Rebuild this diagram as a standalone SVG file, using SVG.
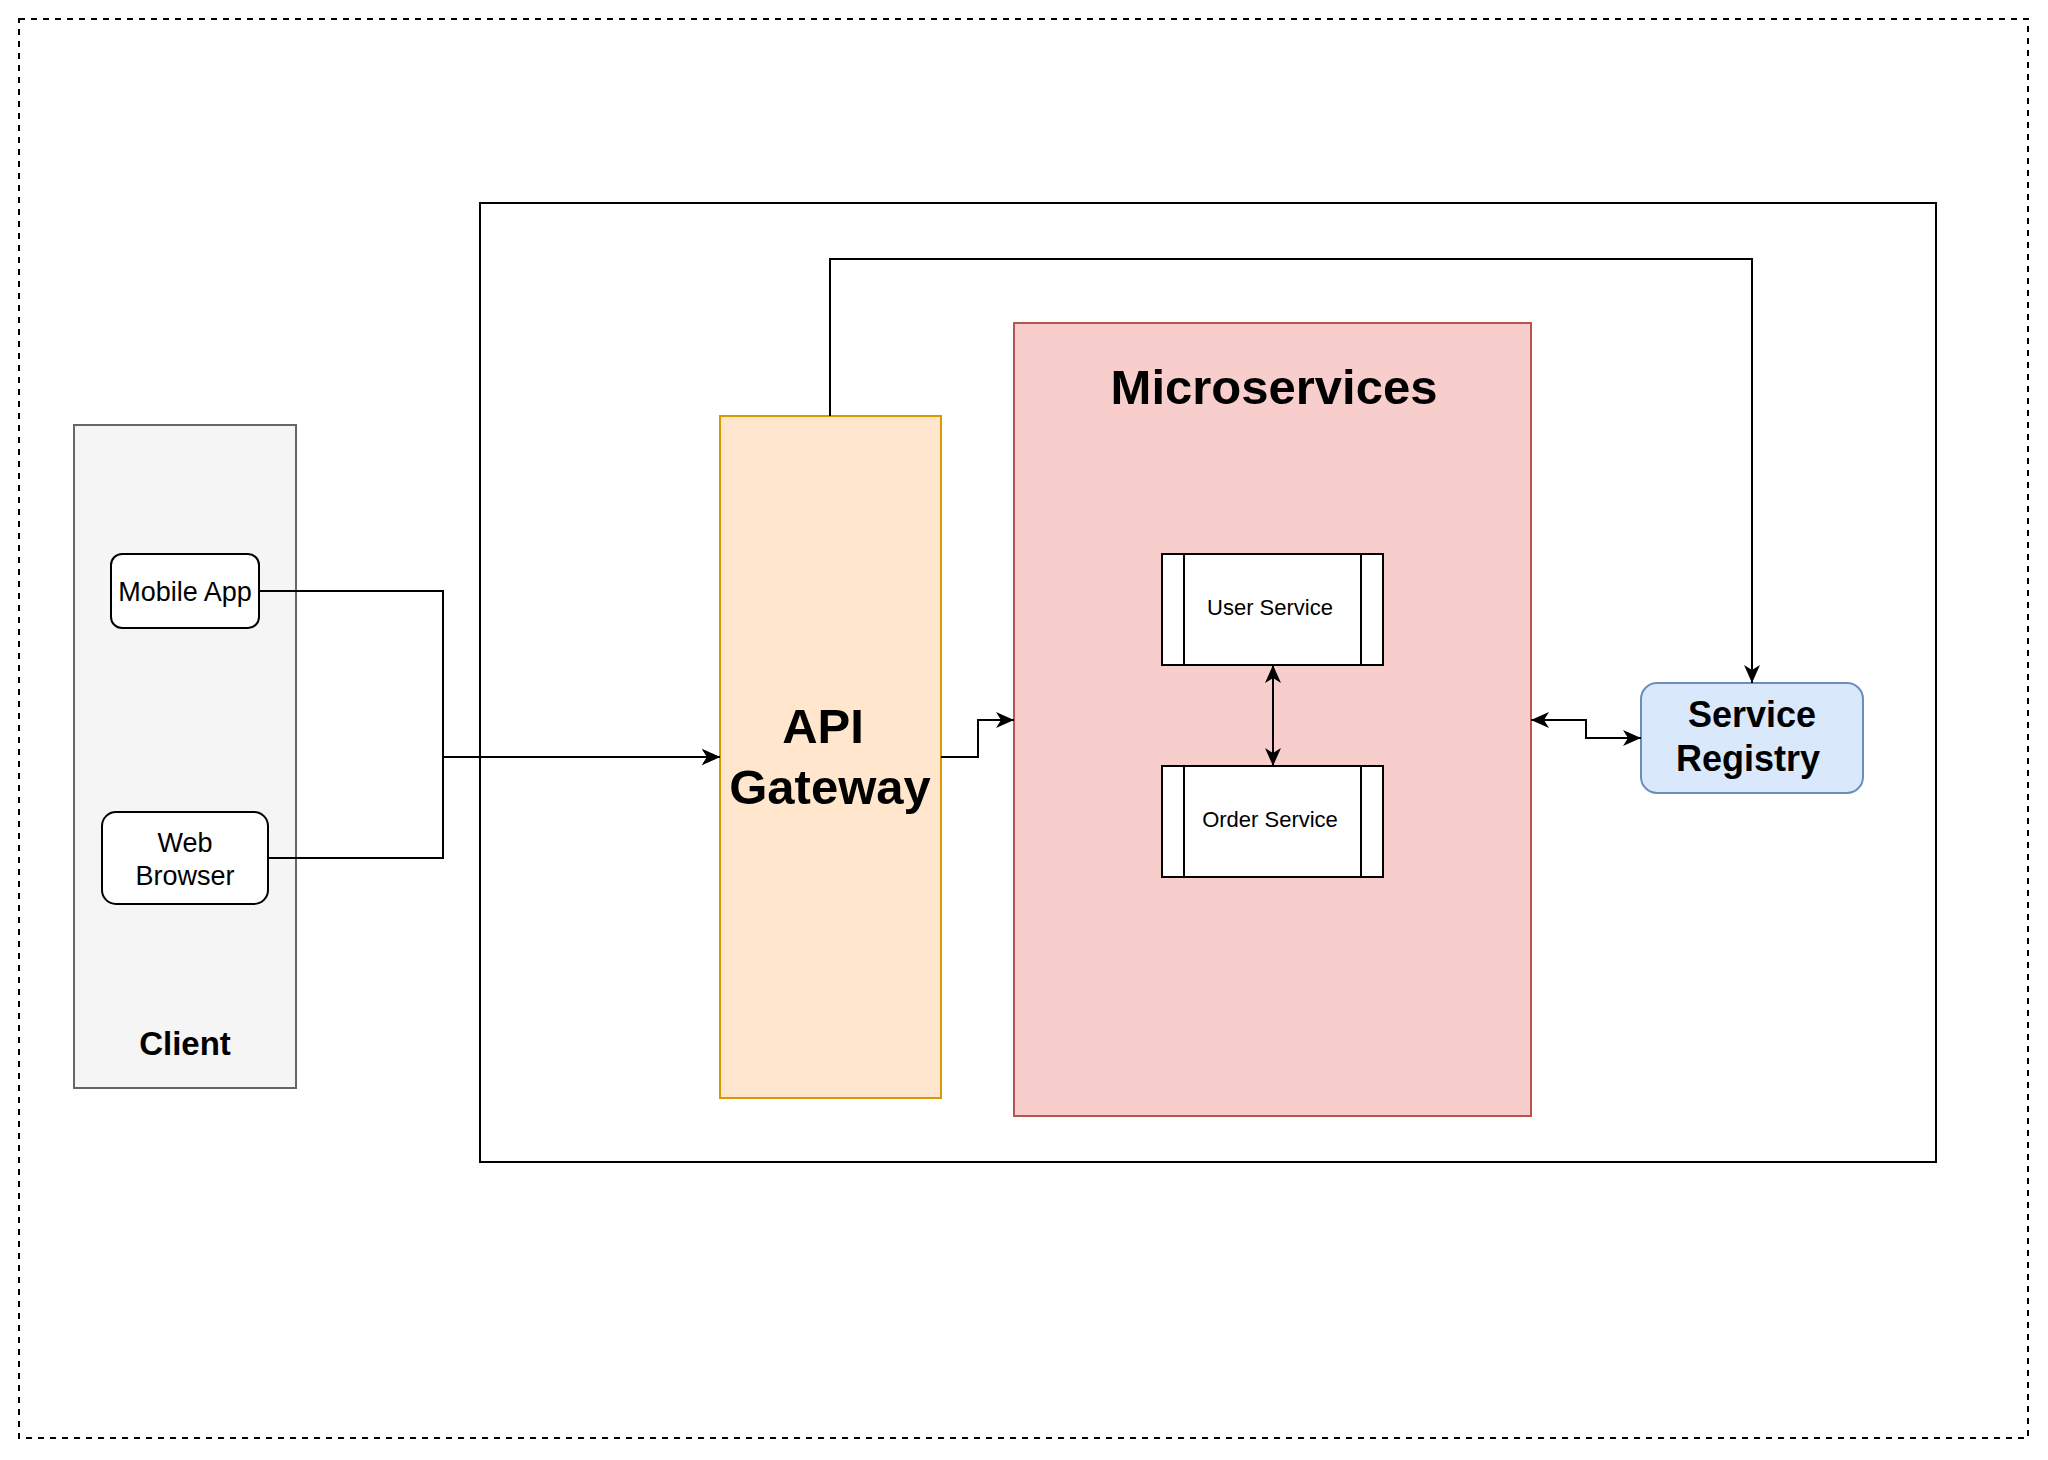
<svg xmlns="http://www.w3.org/2000/svg" width="2048" height="1460" viewBox="0 0 2048 1460">
<style>
text{font-family:"Liberation Sans",Arial,Helvetica,sans-serif;fill:#000;text-anchor:middle}
.b{font-weight:bold}
.edge{fill:none;stroke:#000;stroke-width:2}
.svc{fill:#fff;stroke:#000;stroke-width:2}
</style>
<defs>
<marker id="arr" viewBox="0 0 18 16" refX="18" refY="8" markerWidth="18" markerHeight="16" markerUnits="userSpaceOnUse" orient="auto-start-reverse">
<path d="M0,0 L18,8 L0,16 L5,8 Z" fill="#000"/>
</marker>
</defs>
<rect x="0" y="0" width="2048" height="1460" fill="#fff"/>
<g id="frame">
<rect x="19" y="19" width="2009" height="1419" fill="none" stroke="#000" stroke-width="2" stroke-dasharray="6 6"/>
</g>
<g id="system">
<rect x="480" y="203" width="1456" height="959" fill="#fff" stroke="#000" stroke-width="2"/>
</g>
<g id="client">
<rect x="74" y="425" width="222" height="663" fill="#f5f5f5" stroke="#666" stroke-width="2"/>
<text class="b" x="185" y="1055" font-size="33">Client</text>
</g>
<g id="mobile-app">
<rect x="111" y="554" width="148" height="74" rx="11" fill="#fff" stroke="#000" stroke-width="2"/>
<text x="185" y="601" font-size="27">Mobile App</text>
</g>
<g id="web-browser">
<rect x="102" y="812" width="166" height="92" rx="14" fill="#fff" stroke="#000" stroke-width="2"/>
<text x="185" y="852" font-size="27">Web</text>
<text x="185" y="885" font-size="27">Browser</text>
</g>
<g id="api-gateway">
<rect x="720" y="416" width="221" height="682" fill="#ffe6cc" stroke="#d79b00" stroke-width="2"/>
<text class="b" x="823" y="743" font-size="49">API</text>
<text class="b" x="830" y="804" font-size="49">Gateway</text>
</g>
<g id="microservices">
<rect x="1014" y="323" width="517" height="793" fill="#f8cecc" stroke="#b85450" stroke-width="2"/>
<text class="b" x="1274" y="404" font-size="49">Microservices</text>
</g>
<g id="user-service">
<rect class="svc" x="1162" y="554" width="221" height="111"/>
<line x1="1184" y1="554" x2="1184" y2="665" stroke="#000" stroke-width="2"/>
<line x1="1361" y1="554" x2="1361" y2="665" stroke="#000" stroke-width="2"/>
<text x="1270" y="615" font-size="22">User Service</text>
</g>
<g id="order-service">
<rect class="svc" x="1162" y="766" width="221" height="111"/>
<line x1="1184" y1="766" x2="1184" y2="877" stroke="#000" stroke-width="2"/>
<line x1="1361" y1="766" x2="1361" y2="877" stroke="#000" stroke-width="2"/>
<text x="1270" y="827" font-size="22">Order Service</text>
</g>
<g id="service-registry">
<rect x="1641" y="683" width="222" height="110" rx="16" fill="#dae8fc" stroke="#6c8ebf" stroke-width="2"/>
<text class="b" x="1752" y="727" font-size="36">Service</text>
<text class="b" x="1748" y="771" font-size="36">Registry</text>
</g>
<g id="connectors">
<path class="edge" d="M259,591 H443 V757 H720" marker-end="url(#arr)"/>
<path class="edge" d="M268,858 H443 V757 H720" marker-end="url(#arr)"/>
<path class="edge" d="M941,757 H978 V720 H1014" marker-end="url(#arr)"/>
<path class="edge" d="M830,416 V259 H1752 V683" marker-end="url(#arr)"/>
<path class="edge" d="M1273,665 V766" marker-start="url(#arr)" marker-end="url(#arr)"/>
<path class="edge" d="M1531,720 H1586 V738 H1641" marker-start="url(#arr)" marker-end="url(#arr)"/>
</g>
</svg>
